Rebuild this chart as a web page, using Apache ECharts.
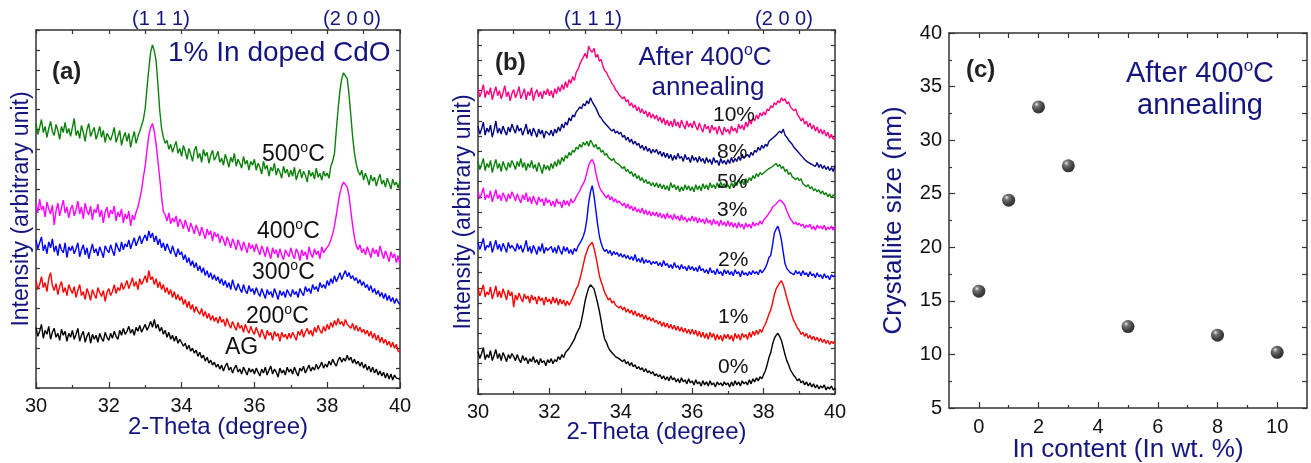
<!DOCTYPE html>
<html>
<head>
<meta charset="utf-8">
<script src="https://cdn.jsdelivr.net/npm/echarts@6/dist/echarts.min.js"></script>
<style>
  html, body { margin: 0; padding: 0; background: #fff; }
  #chart { width: 1311px; height: 463px; }
</style>
</head>
<body>
<div id="chart"></div>
<script>
// 2-theta sampling: 30.00 .. 40.00 degrees, 0.05 degree step (201 points per pattern)
const thetaStart = 30.0;
const thetaStep = 0.05;

// (a) 1% In doped CdO, by annealing temperature (arbitrary intensity, stacked offsets)
const a500 = [
  266,255,262,270,257,263,252,261,268,258,254,265,259,250,263,257,267,256,261,253,
  262,271,254,259,251,264,257,248,260,266,253,258,262,250,256,263,252,259,247,256,
  258,249,255,262,247,253,259,244,252,257,248,256,242,251,258,246,253,258,264,270,
  281,302,321,338,345,339,329,305,279,261,252,246,249,240,245,237,243,248,236,241,
  233,244,238,230,241,235,228,239,243,231,236,227,240,233,237,226,234,239,229,233,
  238,227,231,224,235,229,222,232,227,236,223,230,226,221,233,225,229,219,228,224,
  230,219,226,222,215,228,220,224,213,222,218,226,214,221,217,211,223,216,220,212,
  219,213,222,209,216,220,211,218,214,207,219,213,217,210,221,212,216,209,218,213,
  216,211,223,228,236,259,281,299,311,317,319,311,295,274,252,236,225,218,214,219,
  209,216,211,204,214,208,212,203,210,215,205,209,202,211,206,200,210,204,207,201,
  208];
const a400 = [
  185,176,190,179,183,172,187,180,175,184,164,178,186,173,181,189,176,182,171,180,
  184,173,179,188,175,182,170,186,178,174,183,169,180,176,185,172,179,166,177,182,
  171,179,175,183,168,177,172,180,166,175,170,178,163,174,169,177,182,190,199,212,
  223,240,254,262,266,258,245,228,211,192,177,174,168,176,165,171,167,173,162,170,
  166,160,169,163,157,166,161,155,164,159,153,162,156,150,160,154,158,148,157,152,
  155,146,153,149,143,152,147,141,150,145,139,149,144,138,147,142,136,146,140,144,
  137,145,139,134,143,138,132,142,136,130,141,135,139,131,140,134,129,139,135,132,
  141,134,130,140,136,128,139,133,137,129,142,135,131,140,134,138,130,142,136,139,
  137,144,149,155,163,174,186,196,203,207,209,202,193,178,163,151,143,139,144,136,
  140,134,142,137,131,141,135,139,132,143,136,130,138,133,127,137,131,135,126,133,
  124];
const a300 = [
  149,140,146,152,138,144,135,147,141,150,137,143,133,145,139,136,146,131,142,138,
  143,135,140,146,132,139,144,134,141,130,138,145,136,140,133,142,137,131,143,139,
  136,144,138,133,146,141,137,147,139,145,142,149,140,146,151,143,148,153,145,150,
  154,148,158,151,156,147,153,144,150,141,146,138,145,140,135,143,137,132,140,134,
  137,129,134,126,131,123,128,121,126,118,123,116,121,113,118,111,116,109,114,108,
  112,105,110,103,108,101,106,99,109,102,98,105,100,96,104,98,95,103,97,100,
  94,101,96,92,100,95,90,99,94,97,91,100,95,89,98,93,97,91,99,95,
  92,99,94,97,91,100,96,93,102,97,100,95,104,99,102,97,106,101,104,100,
  108,103,110,105,113,107,111,116,109,114,118,112,116,110,113,108,111,105,109,103,
  107,101,104,98,103,96,100,94,98,92,96,90,95,88,93,87,91,85,90,86,
  84];
const a200 = [
  108,99,104,112,101,106,97,110,116,103,98,105,94,102,107,96,101,93,104,99,
  95,102,91,98,104,93,97,89,100,95,88,99,94,90,101,96,92,98,87,96,
  100,93,97,104,95,101,98,106,99,103,108,100,105,111,102,107,99,110,104,108,
  113,106,118,109,112,104,110,101,107,99,104,96,101,94,99,91,97,89,94,88,
  92,84,89,81,87,79,84,76,82,77,74,80,72,77,70,75,68,73,67,71,
  65,72,66,69,62,70,64,60,67,62,58,66,60,63,56,64,59,55,62,57,
  54,61,56,51,59,54,49,58,53,56,48,57,52,55,47,56,51,54,49,55,
  50,56,52,48,57,53,59,51,56,60,54,58,52,61,56,63,58,55,62,57,
  64,59,66,61,68,63,70,64,67,62,69,64,66,60,65,58,63,57,61,56,
  59,54,58,52,57,50,55,48,53,46,51,45,49,43,47,41,46,40,44,37,
  36];
const aAG = [
  61,52,57,64,50,58,54,62,49,56,60,51,55,48,59,53,57,47,55,51,
  58,49,54,60,47,53,57,46,52,56,45,54,49,53,46,55,50,47,56,51,
  48,55,50,57,52,49,58,53,60,54,57,62,55,59,53,61,57,63,56,60,
  64,58,62,67,61,69,60,64,57,61,54,58,51,56,49,53,47,52,45,49,
  47,42,45,39,43,37,40,35,38,32,36,30,33,27,31,25,28,23,26,21,
  24,19,23,17,22,25,18,21,15,20,23,16,19,14,21,17,13,20,16,19,
  14,20,16,12,19,15,21,13,18,22,14,19,16,11,20,15,18,13,21,16,
  19,14,21,16,12,20,17,22,15,19,23,17,21,18,24,19,22,26,20,24,
  21,27,23,29,25,22,28,31,26,30,27,33,28,31,25,29,24,27,22,26,
  20,24,18,22,16,21,15,19,13,17,12,16,10,15,9,14,8,13,10,12,
  9];

// (b) after 400 C annealing, by In content (wt. %)
const b10 = [
  302,294,299,306,293,300,296,303,291,298,304,295,300,292,298,305,294,299,290,297,
  301,293,298,304,292,297,302,291,299,295,303,290,297,301,294,299,292,300,296,302,
  295,300,293,302,297,304,299,306,301,309,303,311,307,314,310,318,321,326,330,333,
  337,332,344,340,338,342,333,336,329,331,324,320,318,314,311,307,305,301,299,296,
  297,292,294,289,291,285,288,283,286,280,284,278,282,277,280,274,279,273,277,272,
  276,270,274,268,273,266,271,265,270,264,272,265,269,263,271,266,262,270,264,268,
  263,270,265,261,268,263,259,267,262,265,258,266,261,264,257,265,260,256,264,259,
  262,257,265,260,263,258,267,262,266,261,269,264,271,267,273,270,276,272,278,275,
  279,276,282,280,285,283,288,286,290,288,293,290,292,287,289,284,285,280,282,276,
  274,270,273,267,270,264,268,262,266,260,264,258,262,257,261,255,259,253,257,252,
  254];
const b8 = [
  265,257,262,269,256,263,259,266,254,261,270,258,263,257,265,260,256,264,259,267,
  262,258,266,260,263,256,261,267,257,262,255,263,259,254,262,257,261,253,260,258,
  256,261,255,262,258,264,260,267,263,269,266,273,270,276,274,279,281,284,282,287,
  285,290,287,293,289,286,283,279,275,273,270,268,266,264,263,260,262,258,260,257,
  259,254,256,251,254,249,252,247,250,246,248,243,246,241,245,240,243,238,242,239,
  242,237,240,235,239,234,238,233,237,231,236,232,238,233,235,230,237,232,234,229,
  236,231,234,229,235,230,233,228,234,229,232,227,234,229,231,226,233,228,231,227,
  232,228,234,229,233,230,235,231,237,233,235,237,234,239,236,241,239,244,241,246,
  243,247,245,250,249,253,252,256,255,260,258,262,256,254,251,249,247,244,242,240,
  238,236,234,232,231,229,230,227,228,225,229,224,227,223,226,222,225,221,224,220,
  226];
const b5 = [
  230,222,227,233,221,228,224,231,219,226,232,223,228,220,230,225,221,229,224,231,
  227,222,230,225,233,224,229,221,228,224,231,223,227,220,229,224,218,227,222,226,
  221,228,223,230,225,232,227,234,230,236,233,239,236,241,239,244,242,247,244,249,
  246,250,245,251,248,244,247,242,244,239,241,236,238,234,235,231,233,229,230,227,
  228,223,225,220,222,218,220,215,218,213,216,211,214,209,212,208,210,206,209,205,
  209,204,208,203,207,202,206,201,209,204,207,202,206,200,205,201,207,202,206,201,
  205,200,207,202,206,201,208,203,207,202,209,204,207,203,209,204,210,205,208,204,
  207,203,209,205,210,206,212,208,211,207,213,209,214,211,216,213,218,215,219,217,
  217,220,219,223,222,225,224,228,225,227,223,225,220,222,217,219,215,216,212,214,
  211,213,208,209,205,207,203,205,201,203,200,202,198,201,197,199,195,198,194,197,
  196];
const b3 = [
  200,193,198,204,192,197,194,201,190,196,202,193,197,191,199,195,190,198,193,200,
  196,191,198,193,189,197,192,199,190,195,188,196,191,187,195,190,193,186,194,189,
  192,186,191,185,193,188,190,184,192,187,191,186,193,189,191,195,196,201,205,208,
  212,219,226,230,232,228,219,211,205,201,199,196,194,197,192,195,190,193,189,191,
  190,186,189,184,188,183,186,181,185,180,183,179,184,178,182,177,181,176,180,176,
  180,175,179,174,178,173,179,174,177,172,178,173,176,171,177,172,175,170,174,171,
  176,171,175,169,174,170,173,168,174,169,172,167,173,168,171,166,172,167,170,166,
  171,166,170,165,169,164,170,165,168,163,169,165,168,164,170,166,169,167,171,168,
  172,174,176,179,181,185,184,188,190,192,193,189,186,181,177,173,171,168,170,167,
  169,166,168,164,167,165,168,163,166,162,167,164,166,163,167,162,165,163,166,162,
  166];
const b2 = [
  150,143,148,154,142,147,145,151,140,146,152,143,148,141,149,145,140,150,144,147,
  146,141,149,143,147,140,145,152,141,146,139,147,143,138,146,141,149,139,145,142,
  141,146,140,145,139,147,142,138,146,141,145,139,143,138,144,141,146,149,152,156,
  162,173,189,200,206,196,182,168,156,149,144,141,143,139,142,137,141,138,140,136,
  139,135,138,134,137,133,136,132,138,131,134,130,135,129,133,130,132,128,131,129,
  131,127,130,126,132,127,129,125,128,124,130,125,127,123,128,124,126,122,127,123,
  126,122,125,121,127,122,124,120,123,119,125,120,122,118,124,119,121,117,123,119,
  122,118,121,117,123,119,121,116,122,118,120,117,121,118,122,119,121,118,123,120,
  122,125,129,135,137,147,159,163,166,160,152,140,129,124,122,120,121,118,122,119,
  121,117,122,118,120,116,121,117,119,115,120,116,118,114,119,115,117,113,118,116,
  117];
const b1 = [
  105,97,102,108,96,101,98,106,94,100,107,96,102,95,104,99,93,103,97,101,
  86,98,93,100,95,91,99,94,97,90,98,93,96,89,97,92,95,88,96,91,
  94,89,96,90,95,88,94,89,93,87,92,88,91,95,99,104,107,113,120,128,
  136,141,146,148,150,144,136,127,117,111,106,100,97,93,95,90,92,88,89,85,
  87,83,86,81,84,80,83,78,82,77,80,76,79,74,78,73,76,72,75,71,
  73,69,72,67,71,66,70,65,69,64,68,63,67,62,66,61,65,60,64,59,
  64,59,63,57,62,56,61,55,60,54,61,56,60,53,59,54,58,52,59,55,
  59,54,58,52,60,55,59,53,60,56,59,54,61,56,62,58,63,59,64,61,
  66,69,74,79,83,90,98,104,107,110,112,108,102,95,89,83,77,72,69,65,
  63,59,61,57,60,55,58,54,57,53,56,52,55,51,54,50,53,49,52,50,
  53];
const b0 = [
  42,35,40,46,34,39,36,43,33,38,44,35,40,33,41,37,32,39,35,40,
  37,33,39,34,31,38,33,36,30,35,32,37,31,34,29,35,31,33,28,34,
  31,35,30,34,32,37,34,39,36,41,40,45,46,51,54,59,60,66,73,82,
  92,99,105,108,109,104,97,90,82,72,62,54,51,46,43,41,39,37,38,35,
  36,32,34,30,32,28,31,27,29,25,27,24,26,22,25,21,23,20,22,18,
  20,17,19,15,18,14,17,13,18,14,16,12,15,11,16,12,14,10,15,11,
  13,9,14,10,12,8,13,9,12,8,13,9,11,7,12,9,11,8,12,9,
  11,7,12,8,13,9,12,8,13,10,12,9,14,10,15,12,16,13,17,15,
  19,23,29,36,41,49,55,58,60,57,53,46,39,33,29,24,21,18,16,13,
  15,11,13,9,12,8,11,7,10,6,9,5,8,6,9,4,7,5,8,4,
  6];

// (c) crystallite size (nm) vs In content (wt. %)
const inContent = [0, 1, 2, 3, 5, 8, 10];
const crystalliteSize = [15.9, 24.4, 33.1, 27.6, 12.6, 11.8, 10.2];

// tick sets
const thetaTicks = [30, 32, 34, 36, 38, 40];
const contentTicks = [0, 2, 4, 6, 8, 10];
const contentMinorTicks = [1, 3, 5, 7, 9];
const contentTopTicks = [0, 1, 2, 3, 4, 5, 6, 7, 8, 9, 10];

const NAVY = '#15157f';
const AXIS = '#333333';
const FONT = '"Liberation Sans", Arial, sans-serif';

function pairs(vals) {
  return vals.map((v, i) => [Math.round((thetaStart + i * thetaStep) * 100) / 100, v]);
}

function lineSeries(vals, color, xi, yi) {
  return {
    type: 'line', data: pairs(vals), xAxisIndex: xi, yAxisIndex: yi,
    showSymbol: false, symbol: 'none', animation: false, silent: true,
    lineStyle: { color: color, width: 1.4 }
  };
}

const axisLine = { show: true, onZero: false, lineStyle: { color: AXIS, width: 1.5 } };

function thetaBottom(gridIndex, gap) {
  return {
    type: 'value', gridIndex, position: 'bottom', min: 30, max: 40, interval: 2,
    axisLine, splitLine: { show: false },
    axisTick: { show: true, inside: true, length: 6, lineStyle: { color: AXIS, width: 1.2 } },
    minorTick: { show: true, splitNumber: 2, length: 3, lineStyle: { color: AXIS, width: 1.2 } },
    axisLabel: { show: true, fontSize: 20, color: '#111', fontFamily: FONT, margin: 8,
      customValues: thetaTicks },
    name: '2-Theta (degree)', nameLocation: 'middle', nameGap: gap, nameMoveOverlap: false,
    nameTextStyle: { fontSize: 24, color: NAVY, fontFamily: FONT }
  };
}
function thetaTop(gridIndex) {
  return {
    type: 'value', gridIndex, position: 'top', min: 30, max: 40, interval: 1,
    axisLine, splitLine: { show: false },
    axisTick: { show: true, inside: true, length: 4, lineStyle: { color: AXIS, width: 1.2 } },
    axisLabel: { show: false }
  };
}
function intensityAxis(gridIndex, pos, interval, named) {
  const ax = {
    type: 'value', gridIndex, position: pos, min: 0, max: 360, interval,
    axisLine, splitLine: { show: false },
    axisTick: { show: true, inside: true, length: 4, lineStyle: { color: AXIS, width: 1.2 } },
    axisLabel: { show: false }
  };
  if (named) {
    ax.name = 'Intensity (arbitrary unit)';
    ax.nameLocation = 'middle';
    ax.nameGap = 3;
    ax.nameMoveOverlap = false;
    ax.nameTextStyle = { fontSize: 23, color: NAVY, fontFamily: FONT };
  }
  return ax;
}

function txt(x, y, text, size, color, opts) {
  opts = opts || {};
  return {
    type: 'text', x, y, silent: true, z: 100,
    style: {
      text, fill: color, fontSize: size, fontFamily: FONT,
      fontWeight: opts.bold ? 'bold' : 'normal',
      textAlign: opts.align || 'left', textVerticalAlign: 'middle',
      rich: {
        s: { fontSize: Math.round(size * 0.6), fontFamily: FONT, fill: color,
             padding: [0, 0, Math.round(size * 0.55), 0] }
      }
    }
  };
}

const chart = echarts.init(document.getElementById('chart'), null, { renderer: 'canvas' });

const option = {
  backgroundColor: '#ffffff',
  animation: false,
  grid: [
    { left: 36, top: 30, width: 364, height: 358, outerBoundsMode: 'none', containLabel: false },
    { left: 478, top: 30, width: 357, height: 364, outerBoundsMode: 'none', containLabel: false },
    { left: 949, top: 33, width: 358, height: 375, outerBoundsMode: 'none', containLabel: false }
  ],
  xAxis: [
    thetaBottom(0, 27), thetaTop(0),
    thetaBottom(1, 26), thetaTop(1),
    {
      type: 'value', gridIndex: 2, position: 'bottom', min: -1, max: 11,
      axisLine, splitLine: { show: false },
      axisTick: { show: true, inside: true, length: 6, customValues: contentTicks,
        lineStyle: { color: AXIS, width: 1.2 } },
      axisLabel: { show: true, fontSize: 20, color: '#111', fontFamily: FONT, margin: 9,
        customValues: contentTicks },
      name: 'In content (In wt. %)', nameLocation: 'middle', nameGap: 29, nameMoveOverlap: false,
      nameTextStyle: { fontSize: 26, color: NAVY, fontFamily: FONT }
    },
    {
      type: 'value', gridIndex: 2, position: 'top', min: -1, max: 11,
      axisLine, splitLine: { show: false },
      axisTick: { show: true, inside: true, length: 5, customValues: contentTopTicks,
        lineStyle: { color: AXIS, width: 1.2 } },
      axisLabel: { show: false }
    },
    {
      type: 'value', gridIndex: 2, position: 'bottom', min: -1, max: 11,
      axisLine: { show: false }, splitLine: { show: false },
      axisTick: { show: true, inside: true, length: 3, customValues: contentMinorTicks,
        lineStyle: { color: AXIS, width: 1.2 } },
      axisLabel: { show: false }
    }
  ],
  yAxis: [
    intensityAxis(0, 'left', 20, true), intensityAxis(0, 'right', 20, false),
    intensityAxis(1, 'left', 15, true), intensityAxis(1, 'right', 15, false),
    {
      type: 'value', gridIndex: 2, position: 'left', min: 5, max: 40, interval: 5,
      axisLine, splitLine: { show: false },
      axisTick: { show: true, inside: true, length: 6, lineStyle: { color: AXIS, width: 1.2 } },
      minorTick: { show: true, splitNumber: 2, length: 3, lineStyle: { color: AXIS, width: 1.2 } },
      axisLabel: { show: true, fontSize: 20, color: '#111', fontFamily: FONT, margin: 7 },
      name: 'Crystallite size (nm)', nameLocation: 'middle', nameGap: 42, nameMoveOverlap: false,
      nameTextStyle: { fontSize: 26, color: NAVY, fontFamily: FONT }
    },
    {
      type: 'value', gridIndex: 2, position: 'right', min: 5, max: 40, interval: 2.5,
      axisLine, splitLine: { show: false },
      axisTick: { show: true, inside: true, length: 5, lineStyle: { color: AXIS, width: 1.2 } },
      axisLabel: { show: false }
    }
  ],
  series: [
    lineSeries(aAG, '#000000', 0, 0),
    lineSeries(a200, '#ff0000', 0, 0),
    lineSeries(a300, '#0000ff', 0, 0),
    lineSeries(a400, '#ff00ff', 0, 0),
    lineSeries(a500, '#0a800a', 0, 0),
    lineSeries(b0, '#000000', 2, 2),
    lineSeries(b1, '#ff0000', 2, 2),
    lineSeries(b2, '#0000ff', 2, 2),
    lineSeries(b3, '#ff00ff', 2, 2),
    lineSeries(b5, '#0a800a', 2, 2),
    lineSeries(b8, '#000080', 2, 2),
    lineSeries(b10, '#ff0080', 2, 2),
    {
      type: 'scatter', xAxisIndex: 4, yAxisIndex: 4, animation: false, silent: true,
      data: inContent.map((c, i) => [c, crystalliteSize[i]]),
      symbol: 'circle', symbolSize: 13,
      itemStyle: {
        color: new echarts.graphic.RadialGradient(0.35, 0.3, 0.7, [
          { offset: 0, color: '#e8e8e8' },
          { offset: 0.25, color: '#555555' },
          { offset: 0.7, color: '#111111' },
          { offset: 1, color: '#000000' }
        ])
      }
    }
  ],
  graphic: [
    // peak indices
    txt(161, 19, '(1 1 1)', 20, NAVY, { align: 'center' }),
    txt(352, 19, '(2 0 0)', 20, NAVY, { align: 'center' }),
    txt(593, 19, '(1 1 1)', 20, NAVY, { align: 'center' }),
    txt(784, 19, '(2 0 0)', 20, NAVY, { align: 'center' }),
    // panel (a)
    txt(52, 72, '(a)', 24, '#222222', { bold: true }),
    txt(168, 53, '1% In doped CdO', 28, NAVY),
    txt(262, 155, '500{s|o}C', 23, '#111111'),
    txt(257, 232, '400{s|o}C', 23, '#111111'),
    txt(252, 273, '300{s|o}C', 23, '#111111'),
    txt(246, 317, '200{s|o}C', 23, '#111111'),
    txt(225, 348, 'AG', 23, '#111111'),
    // panel (b)
    txt(495, 63, '(b)', 24, '#222222', { bold: true }),
    txt(705, 58, 'After 400{s|o}C', 26, NAVY, { align: 'center' }),
    txt(708, 88, 'annealing', 26, NAVY, { align: 'center' }),
    txt(713, 115, '10%', 21, '#111111'),
    txt(717, 152, '8%', 21, '#111111'),
    txt(717, 182, '5%', 21, '#111111'),
    txt(717, 210, '3%', 21, '#111111'),
    txt(718, 260, '2%', 21, '#111111'),
    txt(718, 317, '1%', 21, '#111111'),
    txt(718, 367, '0%', 21, '#111111'),
    // panel (c)
    txt(966, 70, '(c)', 24, '#222222', { bold: true }),
    txt(1200, 74, 'After 400{s|o}C', 29, NAVY, { align: 'center' }),
    txt(1200, 106, 'annealing', 29, NAVY, { align: 'center' })
  ]
};

chart.setOption(option);
</script>
</body>
</html>
